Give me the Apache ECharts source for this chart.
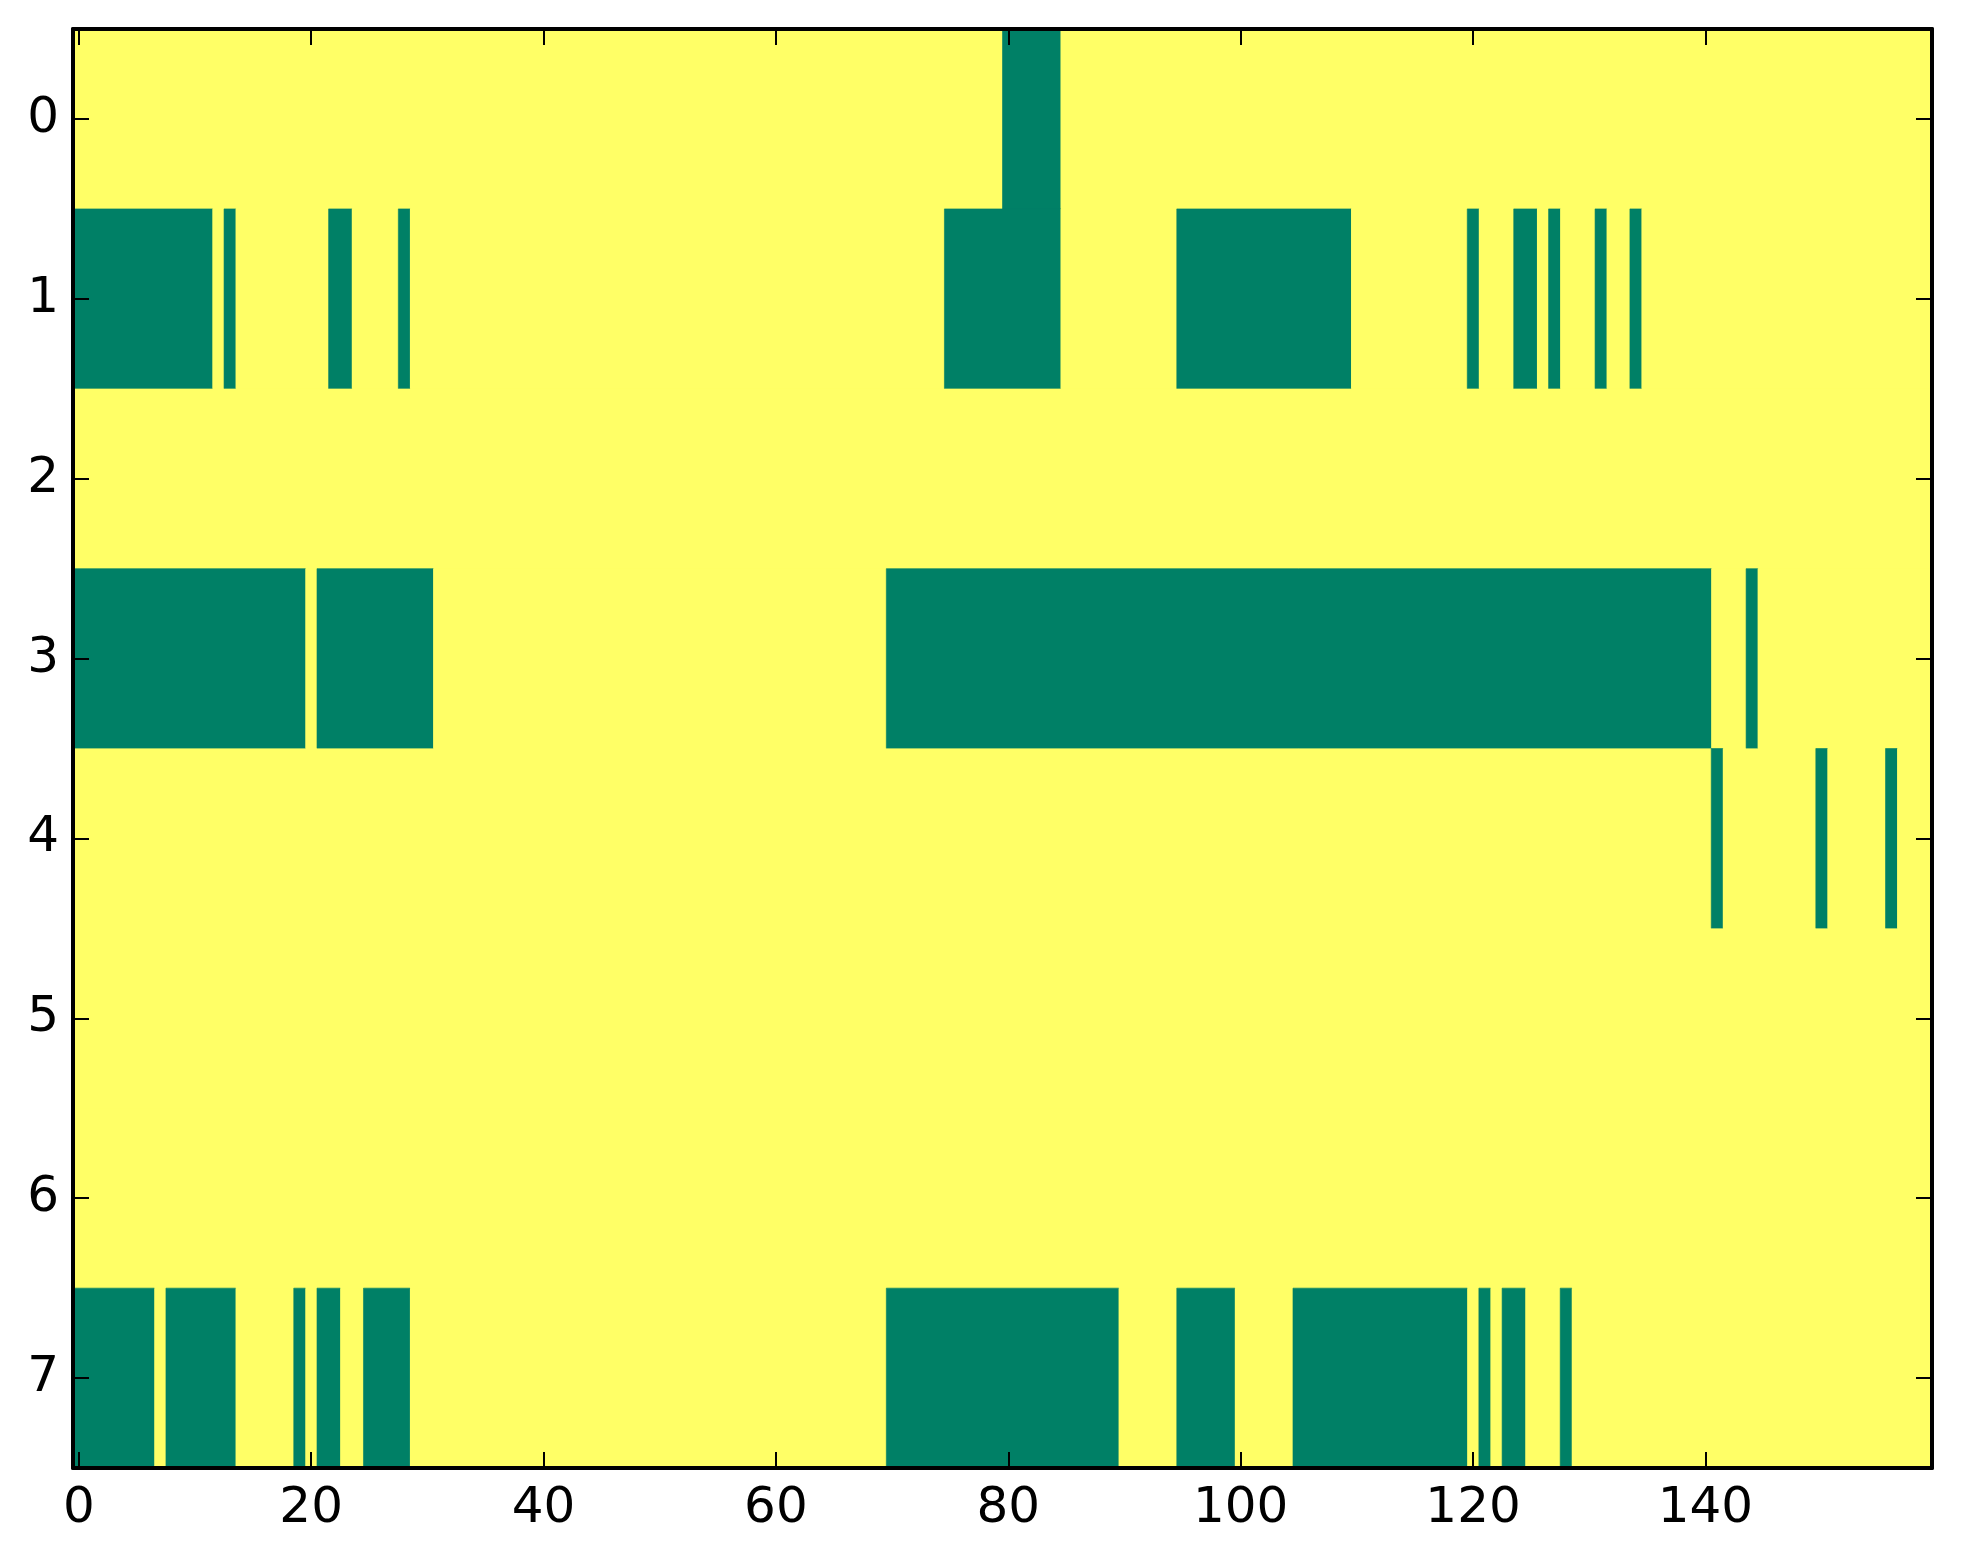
<!DOCTYPE html>
<html>
<head>
<meta charset="utf-8">
<script src="https://cdn.jsdelivr.net/npm/echarts@6/dist/echarts.min.js"></script>
<style>
html,body{margin:0;padding:0;background:#fff;}
#chart{width:1963px;height:1564px;}
</style>
</head>
<body>
<div id="chart"></div>
<script>
// Number of columns and rows in the image
const nCols = 160;
const rowLabels = [0, 1, 2, 3, 4, 5, 6, 7];
const xTickValues = [0, 20, 40, 60, 80, 100, 120, 140];
// Green (value 1) runs per row: [startColumn, endColumn] inclusive; all else is 0 (yellow)
const row0Runs = [[80, 84]];
const row1Runs = [[0, 11], [13, 13], [22, 23], [28, 28], [75, 84], [95, 109], [120, 120], [124, 125], [127, 127], [131, 131], [134, 134]];
const row2Runs = [];
const row3Runs = [[0, 19], [21, 30], [70, 140], [144, 144]];
const row4Runs = [[141, 141], [150, 150], [156, 156]];
const row5Runs = [];
const row6Runs = [];
const row7Runs = [[0, 6], [8, 13], [19, 19], [21, 22], [25, 28], [70, 89], [95, 99], [105, 119], [121, 121], [123, 124], [128, 128]];

const allRuns = [row0Runs, row1Runs, row2Runs, row3Runs, row4Runs, row5Runs, row6Runs, row7Runs];
const LOW = '#ffff66', HIGH = '#008066';

// Build value matrix, then runs of equal value for drawing
const seriesData = [];
allRuns.forEach((runs, r) => {
  const row = new Array(nCols).fill(0);
  runs.forEach(([a, b]) => { for (let c = a; c <= b; c++) row[c] = 1; });
  let s = 0;
  for (let c = 1; c <= nCols; c++) {
    if (c === nCols || row[c] !== row[s]) {
      seriesData.push([r, s, c - 1, row[s]]);
      s = c;
    }
  }
});

const chart = echarts.init(document.getElementById('chart'), null, {renderer: 'canvas'});
const fontFamily = 'DejaVu Sans';
const tickStyle = {show: true, inside: true, length: 16, lineStyle: {color: '#000', width: 2}};
const lineStyle = {show: true, onZero: false, lineStyle: {color: '#000', width: 4}};
const option = {
  animation: false,
  backgroundColor: '#fff',
  grid: {left: 73, right: 31, top: 29, bottom: 96, containLabel: false,
         show: true, backgroundColor: LOW, borderWidth: 0},
  xAxis: [
    {type: 'value', min: -0.5, max: nCols - 0.5, position: 'bottom', z: 10,
     axisLine: lineStyle, splitLine: {show: false},
     axisTick: Object.assign({customValues: xTickValues}, tickStyle),
     axisLabel: {customValues: xTickValues, color: '#000', fontSize: 50, fontFamily, margin: 16}},
    {type: 'value', min: -0.5, max: nCols - 0.5, position: 'top', z: 10,
     axisLine: lineStyle, splitLine: {show: false},
     axisTick: Object.assign({customValues: xTickValues}, tickStyle),
     axisLabel: {show: false}}
  ],
  yAxis: [
    {type: 'value', min: -0.5, max: rowLabels.length - 0.5, inverse: true, position: 'left', z: 10,
     axisLine: lineStyle, splitLine: {show: false},
     axisTick: Object.assign({customValues: rowLabels}, tickStyle),
     axisLabel: {customValues: rowLabels, color: '#000', fontSize: 50, fontFamily, margin: 14}},
    {type: 'value', min: -0.5, max: rowLabels.length - 0.5, inverse: true, position: 'right', z: 10,
     axisLine: lineStyle, splitLine: {show: false},
     axisTick: Object.assign({customValues: rowLabels}, tickStyle),
     axisLabel: {show: false}}
  ],
  series: [{
    type: 'custom',
    xAxisIndex: 0, yAxisIndex: 0,
    clip: true,
    z: 1,
    data: seriesData,
    encode: {x: [1, 2], y: 0},
    renderItem: function (params, api) {
      const r = api.value(0), a = api.value(1), b = api.value(2), v = api.value(3);
      const p1 = api.coord([a - 0.5, r - 0.5]);
      const p2 = api.coord([b + 0.5, r + 0.5]);
      const col = v ? HIGH : LOW;
      return {
        type: 'rect',
        shape: {
          x: Math.min(p1[0], p2[0]), y: Math.min(p1[1], p2[1]),
          width: Math.abs(p2[0] - p1[0]), height: Math.abs(p2[1] - p1[1])
        },
        style: {fill: col, stroke: v ? HIGH : null, lineWidth: v ? 0.6 : 0}
      };
    }
  }]
};
chart.setOption(option);
</script>
</body>
</html>
